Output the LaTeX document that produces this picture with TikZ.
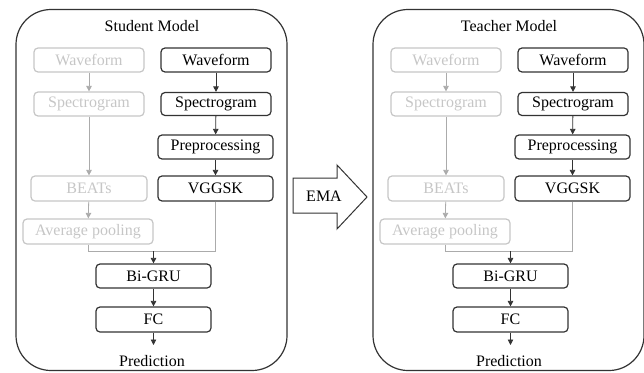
\documentclass[tikz,border=0pt]{standalone}
\usepackage{fontspec}
\setmainfont{Liberation Serif}
\usetikzlibrary{arrows.meta}
\definecolor{ink}{HTML}{333333}
\definecolor{faint}{HTML}{C6C6C6}
\definecolor{faintline}{HTML}{ABABAB}
\begin{document}
\begin{tikzpicture}[x=1pt,y=-1pt,
  label font/.style={font=\fontsize{16}{18}\selectfont},
  block/.style={draw=ink, line width=1.2pt, rounded corners=4pt,
    minimum height=24pt, inner sep=0pt, label font, text=black},
  ghost/.style={block, draw=faint, text=faint},
  flow/.style={draw=ink, line width=0.8pt, -{Triangle[length=5.5pt,width=5.5pt]}},
  ghostflow/.style={draw=faintline, line width=0.8pt,
    -{Triangle[length=5.5pt,width=5.5pt]}},
  merge/.style={draw=faintline, line width=0.8pt},
  frame/.style={draw=ink, line width=1.2pt, rounded corners=35pt,
    minimum width=271pt, minimum height=361pt, inner sep=0pt}
]
\useasboundingbox (0,0) rectangle (644,372);

\foreach \ox/\title/\t in {0/Student Model/s, 357/Teacher Model/t}{
  \begin{scope}[xshift=\ox pt]
    \node[frame] (frame-\t) at (151.5,190) {};
    \node[label font] (title-\t) at (152,26) {\title};

    % frozen BEATs branch
    \node[ghost, minimum width=110pt] (gwave-\t) at (89,60) {Waveform};
    \node[ghost, minimum width=110pt] (gspec-\t) at (89,104) {Spectrogram};
    \node[ghost, minimum width=116pt, minimum height=25pt] (beats-\t) at (89,188.5) {BEATs};
    \node[ghost, minimum width=130pt, minimum height=25pt] (pool-\t) at (88,231.5) {Average pooling};

    % CNN branch
    \node[block, minimum width=110pt] (wave-\t) at (216,60) {Waveform};
    \node[block, minimum width=110pt, minimum height=23pt] (spec-\t) at (216,104) {Spectrogram};
    \node[block, minimum width=115pt] (pre-\t) at (215.5,147) {Preprocessing};
    \node[block, minimum width=115pt, minimum height=25pt] (vgg-\t) at (215.5,188.5) {VGGSK};

    % shared head
    \node[block, minimum width=115pt] (gru-\t) at (153.5,276) {Bi-GRU};
    \node[block, minimum width=115pt, minimum height=25pt] (fc-\t) at (153.5,319.5) {FC};
    \node[label font, inner sep=0pt] (pred-\t) at (152,361) {Prediction};
    \coordinate (join-\t) at (153.5,251);
    \coordinate (out-\t) at (153.5,345);

    \draw[ghostflow] (gwave-\t) -- (gspec-\t);
    \draw[ghostflow] (gspec-\t) -- (beats-\t);
    \draw[ghostflow] (beats-\t) -- (pool-\t);
    \draw[flow] (wave-\t) -- (spec-\t);
    \draw[flow] (spec-\t) -- (pre-\t);
    \draw[flow] (pre-\t) -- (vgg-\t);
    \draw[merge] (pool-\t.south) |- (join-\t);
    \draw[merge] (vgg-\t.south) |- (join-\t);
    \draw[flow] (join-\t) -- (gru-\t);
    \draw[flow] (gru-\t) -- (fc-\t);
    \draw[flow] (fc-\t) -- (out-\t);
  \end{scope}
}

% EMA update from student to teacher
\draw[ink, line width=1pt, line join=miter]
  (293,178) -- (337,178) -- (337,165) -- (367,197) -- (337,229)
  -- (337,213) -- (293,213) -- cycle;
\node[label font] (ema) at (324,196) {EMA};
\end{tikzpicture}
\end{document}
